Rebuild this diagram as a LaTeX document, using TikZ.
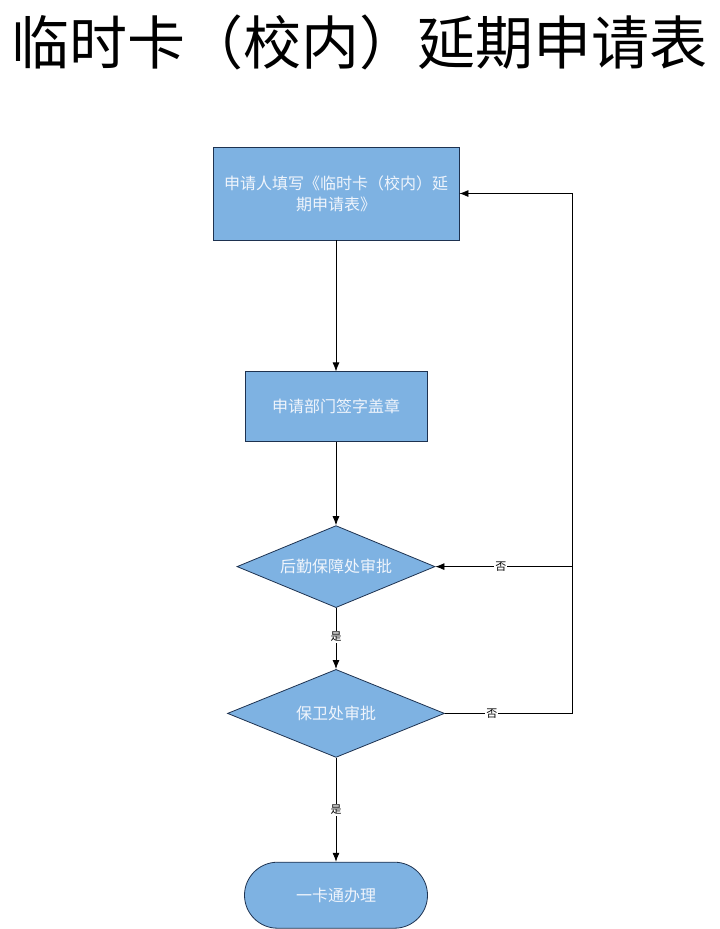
\documentclass[tikz,border=0pt]{standalone}
\usepackage{fontspec}
\setmainfont{Noto Sans CJK SC}
\usepackage{xcolor}
\usepackage{tikz}
\usetikzlibrary{shapes.geometric, arrows.meta, positioning, calc}

\definecolor{boxblue}{RGB}{126,178,226}
\definecolor{boxline}{RGB}{30,50,80}
\definecolor{boxtext}{RGB}{240,245,252}

\begin{document}
\begin{tikzpicture}[
    x=1pt, y=-1pt,
    box/.style={rectangle, draw=boxline, fill=boxblue, text=boxtext, align=center, font=\fontsize{16}{21}\selectfont, line width=0.8pt},
    decision/.style={diamond, aspect=2.4, draw=boxline, fill=boxblue, text=boxtext, font=\fontsize{16}{21}\selectfont, inner sep=0pt, line width=0.8pt},
    term/.style={rectangle, rounded corners=33pt, draw=boxline, fill=boxblue, text=boxtext, font=\fontsize{16}{21}\selectfont, line width=0.8pt},
    lbl/.style={fill=white, inner sep=1pt, font=\fontsize{11}{13}\selectfont},
    arrow/.style={-{Latex[length=9pt,width=7pt]}, line width=0.8pt}
]
\useasboundingbox (0,0) rectangle (720,929);

\node [inner sep=0pt] (title) at (360,42) {\fontsize{58}{62}\selectfont 临时卡（校内）延期申请表};

\node [box, minimum width=246pt, minimum height=93pt] (apply) at (336,193.5) {申请人填写《临时卡（校内）延\\期申请表》};
\node [box, minimum width=182pt, minimum height=70pt, below=131pt of apply] (dept) {申请部门签字盖章};
\node [decision, minimum width=198pt, minimum height=82pt, below=83pt of dept] (logistics) {后勤保障处审批};
\node [decision, minimum width=217pt, minimum height=88pt, below=61pt of logistics] (security) {保卫处审批};
\node [term, minimum width=183pt, minimum height=66pt, below=104pt of security] (card) {一卡通办理};

\path (security.east) ++(127,0) coordinate (back);

\draw [arrow] (apply) -- (dept);
\draw [arrow] (dept) -- (logistics);
\draw [arrow] (logistics) -- node[lbl, pos=0.47] {是} (security);
\draw [arrow] (security) -- node[lbl, pos=0.5] {是} (card);
\draw [arrow] (security.east) -- node[lbl, pos=0.37] {否} (back) |- (apply.east);
\draw [arrow] (back |- logistics.east) -- node[lbl, pos=0.52] {否} (logistics.east);
\end{tikzpicture}
\end{document}
